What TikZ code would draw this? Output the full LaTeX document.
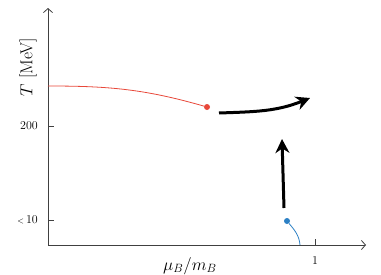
\documentclass[tikz,border=0pt]{standalone}
\usepackage{amsmath}
\usepackage{tikz}
\usetikzlibrary{arrows.meta, positioning}
\definecolor{redline}{RGB}{232,72,58}
\definecolor{blueline}{RGB}{44,128,196}

\begin{document}
\begin{tikzpicture}[
    x=1pt, y=1pt,
    axis/.style={-{Straight Barb[length=4pt, width=9pt]}, line width=0.8pt, black!75},
    tck/.style={line width=0.8pt, black!75},
    arr/.style={-{Stealth[length=14pt, width=14pt]}, line width=3pt},
    dot/.style={circle, inner sep=0pt, minimum size=6pt, fill=#1},
    lbl/.style={font=\LARGE, inner sep=0pt},
    tlbl/.style={font=\large, inner sep=0pt},
]
    \useasboundingbox (0,0) rectangle (381,274);

    \coordinate (O) at (48,29);
    \coordinate (Xend) at (366,29);
    \coordinate (Yend) at (48,266);
    \draw[axis] (O) -- (Xend);
    \draw[axis] (O) -- (Yend);

    \coordinate (Y200) at (48,148);
    \coordinate (Y10) at (48,54);
    \coordinate (X1) at (315,29);
    \draw[tck] (Y200) -- ++(6,0);
    \draw[tck] (Y10) -- ++(6,0);
    \draw[tck] (X1) -- ++(0,6);

    \node[tlbl, left=10pt of Y200] (L200) {200};
    \node[tlbl, left=10pt of Y10] (L10) {$\scriptstyle<$\,10};
    \node[tlbl, below=11pt of X1] (L1) {1};

    \node[lbl, rotate=90] (Tlab) at (28,207) {$T$ [MeV]};
    \node[lbl] (Mlab) at (190,8) {$\mu_B/m_B$};

    \coordinate (Rs) at (48,188);
    \node[dot=redline] (Rc) at (207,167) {};
    \draw[redline, line width=0.8pt] (Rs) to[out=0, in=164] (Rc);

    \node[dot=blueline] (Bc) at (287,53) {};
    \coordinate (Bs) at (300,29);
    \draw[blueline, line width=0.8pt] (Bc) to[out=-50, in=95] (Bs);

    \coordinate (A1s) at (219,161);
    \coordinate (A1e) at (310,176);
    \draw[arr] (A1s) to[out=2, in=202] (A1e);

    \coordinate (A2s) at (284,66);
    \coordinate (A2e) at (282,135);
    \draw[arr] (A2s) -- (A2e);

\end{tikzpicture}
\end{document}
